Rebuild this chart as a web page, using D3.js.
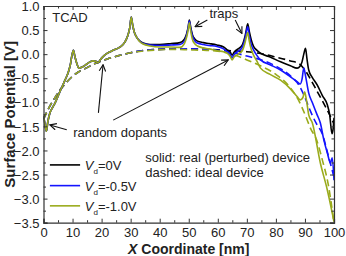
<!DOCTYPE html>
<html>
<head>
<meta charset="utf-8">
<script src="https://cdn.jsdelivr.net/npm/d3@7"></script>
<style>
  body { margin: 0; background: #fff; }
  text { font-family: "Liberation Sans", Arial, sans-serif; fill: #222; }
</style>
</head>
<body>
<div class="mainContent"></div>
<script>
const w = 346;
const h = 256;
const margin = {left: 43.5, right: 12, top: 6, bottom: 33.3};

// x positions along the channel [nm] and surface potential [V]
const blackX = [0, 0.5, 1, 1.5, 2.2, 3, 4, 5.5, 7.4, 8.5, 9.3, 9.8, 10.3, 10.8, 11.5, 12.2, 13.5, 15, 16, 17, 18, 18.8, 19.5, 20.5, 22, 24, 26.4, 28, 29, 29.7, 30.2, 30.7, 31.3, 32, 33, 34.3, 36.7, 40, 44, 47, 48.5, 49.3, 49.8, 50.2, 50.7, 51.3, 52, 53, 55, 57, 59.7, 62, 63.2, 64.3, 64.9, 65.6, 66.5, 67.5, 68.5, 69.3, 69.8, 70.3, 70.8, 71.5, 72.3, 73.5, 74.7, 78, 81.6, 85, 87.3, 88.3, 89, 89.6, 90.2, 90.7, 91.3, 92.5, 94.2, 96, 97.7, 98.5, 99.3, 99.7, 100];
const blackV = [-1.28, -1.45, -1.6, -1.4, -1.22, -1.12, -1.01, -0.8, -0.54, -0.38, -0.2, -0.02, 0.08, -0.05, -0.2, -0.29, -0.26, -0.2, -0.16, -0.14, -0.15, -0.18, -0.12, -0.05, 0.02, 0.08, 0.15, 0.25, 0.38, 0.55, 0.77, 0.6, 0.45, 0.36, 0.28, 0.23, 0.2, 0.2, 0.22, 0.24, 0.31, 0.43, 0.56, 0.71, 0.55, 0.4, 0.32, 0.27, 0.24, 0.22, 0.19, 0.15, 0.09, 0.04, -0.02, 0.04, 0.09, 0.13, 0.2, 0.35, 0.5, 0.63, 0.48, 0.3, 0.16, 0.08, 0.02, -0.06, -0.16, -0.24, -0.29, -0.25, -0.16, 0.0, 0.12, -0.1, -0.33, -0.48, -0.64, -0.86, -1.05, -1.25, -1.65, -1.55, -1.32];

const blueX = [0, 0.5, 1, 1.5, 2.2, 3, 4, 5.5, 7.4, 8.5, 9.3, 9.8, 10.3, 10.8, 11.5, 12.2, 13.5, 15, 16, 17, 18, 18.8, 19.5, 20.5, 22, 24, 26.4, 28, 29, 29.7, 30.2, 30.7, 31.3, 32, 33, 34.3, 36.7, 40, 44, 47, 48.5, 49.3, 49.8, 50.2, 50.7, 51.3, 52, 53, 55, 57, 59.7, 62, 63.2, 64.3, 64.9, 65.6, 66.5, 67.5, 68.5, 69.3, 69.8, 70.3, 70.8, 71.5, 72.3, 73.5, 74.7, 78, 81.6, 85, 87.3, 88.4, 89, 89.6, 90.2, 91.3, 92.5, 94.2, 95.3, 96.5, 97.7, 98.8, 99.4, 100];
const blueV = [-1.28, -1.45, -1.6, -1.4, -1.22, -1.12, -1.01, -0.8, -0.54, -0.38, -0.2, -0.02, 0.08, -0.05, -0.2, -0.29, -0.26, -0.2, -0.16, -0.14, -0.15, -0.18, -0.12, -0.05, 0.02, 0.08, 0.15, 0.25, 0.38, 0.55, 0.77, 0.6, 0.45, 0.36, 0.28, 0.22, 0.19, 0.18, 0.19, 0.2, 0.27, 0.4, 0.55, 0.69, 0.52, 0.37, 0.28, 0.23, 0.2, 0.18, 0.16, 0.11, 0.05, -0.01, -0.08, -0.01, 0.04, 0.08, 0.15, 0.3, 0.45, 0.57, 0.4, 0.2, 0.09, -0.03, -0.12, -0.22, -0.33, -0.47, -0.57, -0.62, -0.52, -0.29, -0.45, -0.81, -1.0, -1.26, -1.43, -1.78, -2.05, -2.26, -2.15, -2.62];

const greenX = [0, 0.5, 1, 1.5, 2.2, 3, 4, 5.5, 7.4, 8.5, 9.3, 9.8, 10.3, 10.8, 11.5, 12.2, 13.5, 15, 16, 17, 18, 18.8, 19.5, 20.5, 22, 24, 26.4, 28, 29, 29.7, 30.2, 30.7, 31.3, 32, 33, 34.3, 36.7, 40, 44, 47, 48.5, 49.3, 49.8, 50.2, 50.7, 51.3, 52, 53, 55, 57, 59.7, 62, 63.2, 64.3, 64.9, 65.6, 66.5, 67.5, 68.5, 69.3, 69.8, 70.3, 70.8, 71.5, 72.3, 73.5, 74.7, 78, 81.6, 85, 87.3, 88.4, 89.3, 89.9, 90.5, 91.3, 92.5, 95.3, 97.7, 99.4, 100];
const greenV = [-1.28, -1.45, -1.6, -1.4, -1.22, -1.12, -1.01, -0.8, -0.54, -0.38, -0.2, -0.02, 0.08, -0.05, -0.2, -0.29, -0.26, -0.2, -0.16, -0.14, -0.15, -0.18, -0.12, -0.05, 0.02, 0.08, 0.15, 0.25, 0.38, 0.55, 0.77, 0.6, 0.45, 0.36, 0.27, 0.21, 0.17, 0.15, 0.15, 0.14, 0.22, 0.36, 0.5, 0.65, 0.47, 0.3, 0.22, 0.17, 0.13, 0.11, 0.07, 0.05, 0.02, -0.05, -0.12, -0.06, -0.02, 0.02, 0.08, 0.22, 0.35, 0.45, 0.28, 0.1, -0.02, -0.15, -0.29, -0.42, -0.54, -0.72, -0.88, -0.95, -0.9, -0.78, -0.95, -1.26, -1.42, -2.26, -2.82, -3.3, -3.48];

// ideal (unperturbed) device, dashed
const idealX = [0, 2, 4, 6, 8, 10, 12, 15, 18, 22, 26, 30, 35, 40, 45, 50, 55, 60, 65, 70, 75, 80, 85, 88, 90, 92, 94, 96, 98, 100];
const idealBlackV = [-1.35, -1.1, -0.9, -0.72, -0.58, -0.46, -0.37, -0.28, -0.19, -0.1, -0.03, 0.03, 0.08, 0.1, 0.11, 0.11, 0.1, 0.09, 0.07, 0.05, 0.01, -0.06, -0.14, -0.2, -0.33, -0.53, -0.75, -0.97, -1.2, -1.45];
const idealBlueV = [-1.35, -1.1, -0.9, -0.72, -0.58, -0.46, -0.37, -0.28, -0.19, -0.1, -0.03, 0.03, 0.08, 0.1, 0.11, 0.11, 0.1, 0.08, 0.04, -0.04, -0.12, -0.25, -0.45, -0.65, -0.9, -1.2, -1.45, -1.66, -2.1, -2.55];
const idealGreenV = [-1.35, -1.1, -0.9, -0.72, -0.58, -0.46, -0.37, -0.28, -0.19, -0.1, -0.03, 0.03, 0.07, 0.09, 0.1, 0.09, 0.08, 0.06, 0.0, -0.12, -0.25, -0.42, -0.7, -0.98, -1.25, -1.55, -1.78, -2.2, -2.7, -3.5];

const xTicks = [0, 10, 20, 30, 40, 50, 60, 70, 80, 90, 100];
const yTicks = [1.0, 0.5, 0.0, -0.5, -1.0, -1.5, -2.0, -2.5, -3.0, -3.5];

const legendLabels = ['=0V', '=-0.5V', '=-1.0V'];
const colors = ['#000000', '#1414ff', '#9aab1c'];

// annotation arrows: [x1, v1, x2, v2] tail -> head
const arrows = [
  [56.4, 0.71, 52.2, 0.57],
  [66.0, 0.71, 68.3, 0.43],
  [8.0, -1.57, 2.2, -1.47],
  [18.9, -1.22, 20.5, -0.22],
  [24.0, -1.37, 63.6, -0.12]
];

const xScale = d3.scaleLinear().domain([0, 100]).range([margin.left, w - margin.right]);
const yScale = d3.scaleLinear().domain([-3.5, 1.0]).range([h - margin.bottom, margin.top]);

const svg = d3.select('.mainContent')
  .append('svg')
  .attr('width', w)
  .attr('height', h);

const zip = (xs, vs) => xs.map((x, i) => ({x: x, v: vs[i]}));
const line = d3.line()
  .x(d => xScale(d.x))
  .y(d => yScale(d.v))
  .curve(d3.curveMonotoneX);

svg.append('defs').append('clipPath').attr('id', 'clip')
  .append('rect')
  .attr('x', margin.left).attr('y', margin.top)
  .attr('width', w - margin.left - margin.right)
  .attr('height', h - margin.top - margin.bottom);

const plot = svg.append('g').attr('clip-path', 'url(#clip)');

[idealBlackV, idealBlueV, idealGreenV].forEach((vs, i) => {
  plot.append('path')
    .datum(zip(idealX, vs))
    .attr('d', line)
    .attr('fill', 'none')
    .attr('stroke', colors[i])
    .attr('stroke-width', 1.6)
    .attr('stroke-dasharray', '7,4');
});

[[blackX, blackV], [blueX, blueV], [greenX, greenV]].forEach((s, i) => {
  plot.append('path')
    .datum(zip(s[0], s[1]))
    .attr('d', line)
    .attr('fill', 'none')
    .attr('stroke', colors[i])
    .attr('stroke-width', 1.6);
});

// axes, ticks pointing inward on all four sides
const minorX = d3.range(5, 100, 10);
const minorY = d3.range(-3.25, 1.0, 0.5);
const axisColor = '#333';

function frameAxis(gen, pos, major, minor) {
  const g = svg.append('g').attr('transform', pos);
  g.call(gen(major).tickSize(4).tickFormat(''));
  const g2 = svg.append('g').attr('transform', pos);
  g2.call(gen(minor).tickSize(2.5).tickFormat(''));
  g2.select('.domain').remove();
  [g, g2].forEach(a => {
    a.selectAll('line').attr('stroke', axisColor);
    a.select('.domain').attr('stroke', axisColor);
  });
  return g;
}

const bottom = frameAxis(v => d3.axisTop(xScale).tickValues(v), `translate(0,${h - margin.bottom})`, xTicks, minorX);
bottom.selectAll('.tick').append('text')
  .attr('y', 14)
  .attr('text-anchor', 'middle')
  .style('font-size', '13px')
  .text(d => d);
frameAxis(v => d3.axisBottom(xScale).tickValues(v), `translate(0,${margin.top})`, xTicks, minorX);

const left = frameAxis(v => d3.axisRight(yScale).tickValues(v), `translate(${margin.left},0)`, yTicks, minorY);
left.selectAll('.tick').append('text')
  .attr('x', -4)
  .attr('dy', '0.36em')
  .attr('text-anchor', 'end')
  .style('font-size', '13px')
  .text(d => d3.format('.1f')(d));
frameAxis(v => d3.axisLeft(yScale).tickValues(v), `translate(${w - margin.right},0)`, yTicks, minorY);

svg.selectAll('.domain').attr('stroke-width', 1.2);

// axis titles
const xt = svg.append('text')
  .attr('x', (margin.left + w - margin.right) / 2)
  .attr('y', 254)
  .attr('text-anchor', 'middle')
  .style('font-size', '14px')
  .style('font-weight', 'bold');
xt.append('tspan').style('font-style', 'italic').text('X');
xt.append('tspan').text(' Coordinate [nm]');

svg.append('text')
  .attr('transform', `translate(15,${(margin.top + h - margin.bottom) / 2}) rotate(-90)`)
  .attr('text-anchor', 'middle')
  .style('font-size', '15px')
  .style('font-weight', 'bold')
  .text('Surface Potential [V]');

// annotations
const note = (x, v, str) => svg.append('text')
  .attr('x', xScale(x)).attr('y', yScale(v))
  .style('font-size', '13px')
  .text(str);
note(3, 0.67, 'TCAD');
note(57.1, 0.76, 'traps');
note(10.2, -1.73, 'random dopants');
note(35, -2.23, 'solid: real (perturbed) device');
note(35, -2.56, 'dashed: ideal device');

svg.select('defs').append('marker')
  .attr('id', 'head')
  .attr('viewBox', '0 0 10 10')
  .attr('refX', 9).attr('refY', 5)
  .attr('markerWidth', 8).attr('markerHeight', 8)
  .attr('markerUnits', 'userSpaceOnUse')
  .attr('orient', 'auto')
  .append('path')
  .attr('d', 'M1,1 L9,5 L1,9')
  .attr('fill', 'none')
  .attr('stroke', '#111')
  .attr('stroke-width', 1.4);

svg.selectAll('line.arrow')
  .data(arrows)
  .enter()
  .append('line')
  .attr('class', 'arrow')
  .attr('x1', d => xScale(d[0])).attr('y1', d => yScale(d[1]))
  .attr('x2', d => xScale(d[2])).attr('y2', d => yScale(d[3]))
  .attr('stroke', '#111')
  .attr('stroke-width', 1.1)
  .attr('marker-end', 'url(#head)');

// legend
const legendV = [-2.3, -2.73, -3.15];
legendLabels.forEach((lab, i) => {
  svg.append('line')
    .attr('x1', xScale(2.2)).attr('x2', xScale(12.6))
    .attr('y1', yScale(legendV[i])).attr('y2', yScale(legendV[i]))
    .attr('stroke', colors[i])
    .attr('stroke-width', 1.6);
  const t = svg.append('text')
    .attr('x', xScale(14.2))
    .attr('y', yScale(legendV[i]) + 5)
    .style('font-size', '13px');
  t.append('tspan').style('font-style', 'italic').text('V');
  t.append('tspan').attr('dy', 4).style('font-size', '8px').text('d');
  t.append('tspan').attr('dy', -4).text(lab);
});
</script>
</body>
</html>
